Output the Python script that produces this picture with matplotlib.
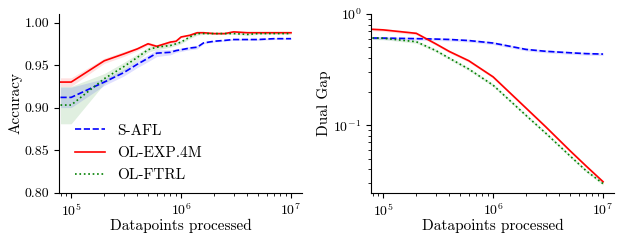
import numpy as np
import matplotlib
matplotlib.use("Agg")
import matplotlib.pyplot as plt

plt.rcParams['font.family'] = ['cmr10', 'DejaVu Serif']
plt.rcParams['mathtext.fontset'] = 'cm'
plt.rcParams['axes.formatter.use_mathtext'] = True

# ---- Accuracy panel data ----
x_acc = [8e4, 1e5, 2e5, 3e5, 4e5, 5e5, 6e5, 8e5, 9e5, 1e6, 1.2e6, 1.4e6, 1.6e6,
         2e6, 2.5e6, 3e6, 4e6, 5e6, 7e6, 1e7]
acc_safl = [0.912, 0.912, 0.930, 0.941, 0.951, 0.958, 0.964, 0.965, 0.967, 0.968, 0.970, 0.971, 0.976,
            0.978, 0.979, 0.980, 0.980, 0.980, 0.981, 0.981]
acc_safl_sd = [0.012, 0.012, 0.004, 0.004, 0.004, 0.004, 0.004, 0.003, 0.002, 0.002, 0.002, 0.002, 0.001,
               0.001, 0.001, 0.001, 0.001, 0.001, 0.001, 0.001]
acc_exp = [0.930, 0.930, 0.955, 0.963, 0.969, 0.975, 0.972, 0.977, 0.978, 0.983, 0.985, 0.988, 0.988,
           0.987, 0.987, 0.989, 0.988, 0.988, 0.988, 0.988]
acc_exp_sd = [0.005, 0.005, 0.003, 0.003, 0.002, 0.002, 0.002, 0.002, 0.001, 0.001, 0.001, 0.001, 0.001,
              0.001, 0.001, 0.001, 0.001, 0.001, 0.001, 0.001]
acc_ftrl = [0.903, 0.903, 0.934, 0.948, 0.959, 0.968, 0.971, 0.973, 0.975, 0.977, 0.983, 0.987, 0.987,
            0.987, 0.987, 0.987, 0.986, 0.987, 0.987, 0.987]
acc_ftrl_sd = [0.022, 0.022, 0.006, 0.005, 0.004, 0.003, 0.003, 0.002, 0.002, 0.002, 0.002, 0.002, 0.001,
               0.001, 0.001, 0.001, 0.001, 0.001, 0.001, 0.001]

# ---- Dual gap panel data ----
x_gap = [8e4, 1e5, 2e5, 3e5, 4e5, 6e5, 1e6, 2e6, 3e6, 5e6, 7e6, 1e7]
gap_safl = [0.608, 0.607, 0.600, 0.595, 0.590, 0.577, 0.548, 0.480, 0.462, 0.448, 0.440, 0.436]
gap_exp = [0.728, 0.720, 0.670, 0.540, 0.460, 0.380, 0.272, 0.142, 0.097, 0.059, 0.043, 0.031]
gap_ftrl = [0.608, 0.605, 0.563, 0.470, 0.400, 0.320, 0.229, 0.122, 0.085, 0.053, 0.039, 0.0298]
gap_sd_frac = 0.03

labels = ['S-AFL', 'OL-EXP.4M', 'OL-FTRL']
colors = ['#0000ff', '#ff0000', '#008000']
styles = ['--', '-', ':']

fig = plt.figure(figsize=(6.24, 2.42), dpi=100)
ax1 = fig.add_axes([59.3/624, 1 - 192.7/242, (301.7-59.3)/624, (192.7-14)/242])
ax2 = fig.add_axes([371.3/624, 1 - 192.7/242, (613.7-371.3)/624, (192.7-14)/242])

for y, sd, lab, c, ls in zip([acc_safl, acc_exp, acc_ftrl],
                             [acc_safl_sd, acc_exp_sd, acc_ftrl_sd],
                             labels, colors, styles):
    y = np.array(y); sd = np.array(sd)
    ax1.fill_between(x_acc, y - sd, y + sd, color=c, alpha=0.12, lw=0)
    ax1.plot(x_acc, y, ls, color=c, lw=1.2, label=lab)

for y, lab, c, ls in zip([gap_safl, gap_exp, gap_ftrl], labels, colors, styles):
    y = np.array(y)
    ax2.fill_between(x_gap, y * (1 - gap_sd_frac), y * (1 + gap_sd_frac), color=c, alpha=0.12, lw=0)
    ax2.plot(x_gap, y, ls, color=c, lw=1.2, label=lab)

for ax in (ax1, ax2):
    ax.set_xscale('log')
    ax.set_xlim(7.8e4, 1.25e7)
    ax.spines['top'].set_visible(False)
    ax.spines['right'].set_visible(False)
    ax.set_xlabel('Datapoints processed', fontsize=11, labelpad=0)
    ax.tick_params(labelsize=10)

ax1.set_ylim(0.80, 1.01)
ax1.set_yticks([0.80, 0.85, 0.90, 0.95, 1.00])
ax1.set_yticklabels(['0.80', '0.85', '0.90', '0.95', '1.00'])
ax1.set_ylabel('Accuracy', fontsize=11, labelpad=1.5)
ax1.legend(loc='lower left', frameon=False, fontsize=11, handlelength=2.0,
           handletextpad=0.8, bbox_to_anchor=(0.02, 0.0), borderaxespad=0.3,
           labelspacing=0.55)

ax2.set_yscale('log')
ax2.set_ylim(0.0247, 1.0)
ax2.set_ylabel('Dual Gap', fontsize=11, labelpad=1.5)

fig.savefig('out.png', dpi=100)
